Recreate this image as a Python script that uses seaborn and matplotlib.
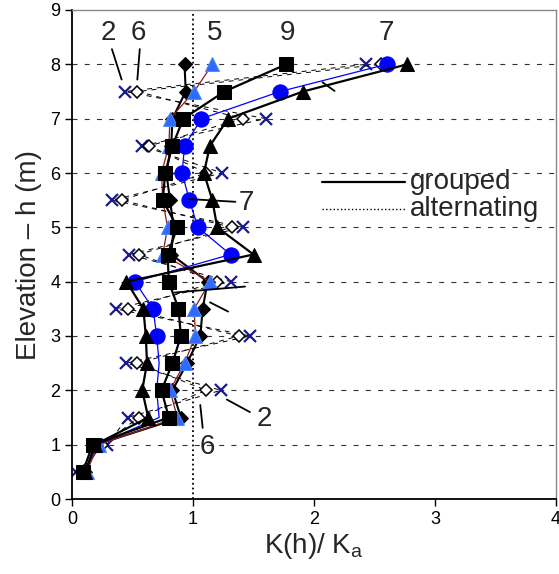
import numpy as np
import pandas as pd
import matplotlib
matplotlib.use("Agg")
import matplotlib.pyplot as plt
import seaborn as sns

sns.set_style("white")
plt.rcParams['font.family'] = ['Liberation Sans', 'DejaVu Sans']

# elevation of the measurement points (m)
elev = [0.5, 1.0, 1.5, 2.0, 2.5, 3.0, 3.5, 4.0, 4.5, 5.0, 5.5, 6.0, 6.5, 7.0, 7.5, 8.0]

# K(h)/Ka per test, grouped piles (solid lines)
k_9 = [0.09, 0.17, 0.80, 0.74, 0.83, 0.90, 0.88, 0.80, 0.79, 0.87, 0.75, 0.77, 0.83, 0.92, 1.26, 1.77]
k_7 = [0.11, 0.19, 0.63, 0.58, 0.62, 0.61, 0.59, 0.45, 1.50, 1.20, 1.16, 1.09, 1.14, 1.29, 1.91, 2.77]
k_7b = [0.10, 0.21, 0.72, 0.70, 0.72, 0.70, 0.67, 0.52, 1.31, 1.04, 0.97, 0.91, 0.93, 1.07, 1.72, 2.60]
k_5 = [0.12, 0.22, 0.87, 0.81, 0.93, 1.02, 1.01, 1.14, 0.75, 0.79, 0.75, 0.74, 0.80, 0.81, 1.01, 1.16]
k_d = [0.11, 0.20, 0.90, 0.83, 0.95, 1.06, 1.08, 1.12, 0.82, 0.84, 0.81, 0.78, 0.82, 0.83, 0.94, 0.93]
# alternating piles (dashed lines)
k_2 = [0.03, 0.29, 0.46, 1.23, 0.45, 1.47, 0.36, 1.31, 0.47, 1.41, 0.33, 1.24, 0.58, 1.60, 0.44, 2.43]
k_6 = [0.08, 0.25, 0.55, 1.11, 0.54, 1.38, 0.46, 1.20, 0.55, 1.32, 0.41, 1.11, 0.64, 1.41, 0.54, 2.55]

df = pd.DataFrame({"elev": elev, "k9": k_9, "k7": k_7, "k7b": k_7b, "k5": k_5,
                   "kd": k_d, "k2": k_2, "k6": k_6})

fig = plt.figure(figsize=(5.59, 5.74), dpi=100)
ax = fig.add_axes([72/559, 75/574, 484/559, 489/574])

ax.set_xlim(0, 4)
ax.set_ylim(0, 9)
for yv in range(1, 9):
    ax.axhline(yv, color='#333333', lw=0.8, ls=(0, (4.5, 6.5)), zorder=0)
ax.axvline(1, color='black', lw=1.3, ls=':', zorder=1)

common = dict(sort=False, estimator=None, ax=ax, legend=False)

# alternating
sns.lineplot(data=df, x="k2", y="elev", color='black', lw=0.7, ls=(0, (5, 5)),
             marker='x', markersize=9, markeredgewidth=1.6, markeredgecolor='#1a1a8c', **common)
sns.lineplot(data=df, x="k6", y="elev", color='black', lw=0.7, ls=(0, (5, 5)),
             marker='D', markersize=6, markerfacecolor='white', markeredgecolor='black',
             markeredgewidth=1.1, **common)
# grouped
sns.lineplot(data=df, x="kd", y="elev", color='black', lw=1.5,
             marker='D', markersize=7, markerfacecolor='black', markeredgecolor='black', **common)
sns.lineplot(data=df, x="k5", y="elev", color='#8b1a1a', lw=0.9,
             marker='^', markersize=10, markerfacecolor='#2f6bff', markeredgecolor='#4d88ff', **common)
sns.lineplot(data=df, x="k7b", y="elev", color='#0000ff', lw=0.9,
             marker='o', markersize=11, markerfacecolor='#0000ff', markeredgecolor='#0000ff',
             markevery=list(range(5, 16)), **common)
sns.lineplot(data=df, x="k7", y="elev", color='black', lw=1.6,
             marker='^', markersize=10, markerfacecolor='black', markeredgecolor='black', **common)
sns.lineplot(data=df, x="k9", y="elev", color='black', lw=1.6,
             marker='s', markersize=10, markerfacecolor='black', markeredgecolor='black', **common)

# labels with leader lines
lab = dict(fontsize=20, ha='center', va='center')
leader = dict(arrowstyle='-', color='black', lw=1.3, shrinkA=0, shrinkB=0)
ax.text(0.30, 8.58, "2", **lab)
ax.text(0.55, 8.58, "6", **lab)
ax.annotate("", xy=(0.41, 7.72), xytext=(0.33, 8.28), arrowprops=leader)
ax.annotate("", xy=(0.54, 7.72), xytext=(0.56, 8.28), arrowprops=leader)
ax.text(1.18, 8.58, "5", **lab)
ax.text(1.78, 8.58, "9", **lab)
ax.text(2.60, 8.58, "7", **lab)
ax.text(1.44, 5.45, "7", **lab)
ax.annotate("", xy=(1.35, 5.47), xytext=(0.97, 5.52), arrowprops=leader)
ax.text(1.59, 1.48, "2", **lab)
ax.annotate("", xy=(1.47, 1.60), xytext=(1.28, 1.83), arrowprops=leader)
ax.text(1.12, 0.95, "6", **lab)
ax.annotate("", xy=(1.08, 1.31), xytext=(1.06, 1.73), arrowprops=leader)
ax.annotate("", xy=(2.17, 7.51), xytext=(2.07, 7.67), arrowprops=leader)
ax.annotate("", xy=(1.43, 3.91), xytext=(0.85, 3.80), arrowprops=leader)
ax.annotate("", xy=(1.29, 3.45), xytext=(1.14, 3.62), arrowprops=leader)

# legend drawn as text
ax.plot([2.07, 2.75], [5.83, 5.83], color='black', lw=1.6)
ax.plot([2.07, 2.75], [5.33, 5.33], color='black', lw=1.0, ls=':')
ax.text(2.79, 5.83, "grouped", fontsize=20, va='center', ha='left')
ax.text(2.79, 5.33, "alternating", fontsize=20, va='center', ha='left')

ax.set_xticks([0, 1, 2, 3, 4])
ax.set_yticks(range(0, 10))
ax.tick_params(axis='both', direction='out', length=5, width=1, labelsize=13,
               left=True, bottom=True, colors='black')
ax.set_xlabel("K(h)/ K$_\\mathregular{a}$", fontsize=20, labelpad=2)
ax.set_ylabel("Elevation \u2013 h (m)", fontsize=20, labelpad=6)
for s in ['left', 'bottom']:
    ax.spines[s].set_color('black')
    ax.spines[s].set_linewidth(1.3)
for s in ['top', 'right']:
    ax.spines[s].set_color('#888888')
    ax.spines[s].set_linewidth(1.0)

fig.savefig("out.png", dpi=100)
